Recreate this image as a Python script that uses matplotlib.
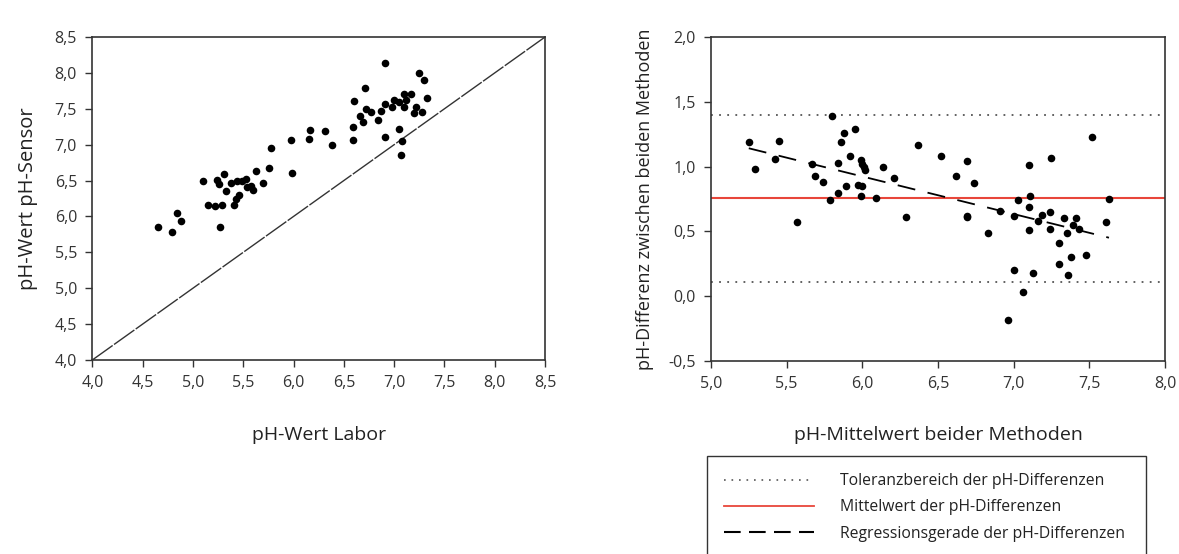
import numpy as np
import matplotlib
matplotlib.use("Agg")
import matplotlib.pyplot as plt
from matplotlib.lines import Line2D
from matplotlib.ticker import FuncFormatter, MultipleLocator

plt.rcParams['font.family'] = ['Open Sans', 'DejaVu Sans']

# pH-Werte: Labor vs. Sensor
labor = [6.91, 6.71, 6.60, 6.66, 6.72, 6.77, 6.69, 6.84, 6.87, 6.91,
         6.59, 6.59, 6.91, 6.16, 6.31, 6.15, 6.38, 5.97, 5.78, 5.98,
         5.76, 5.63, 5.70, 5.10, 5.24, 5.26, 5.31, 5.38, 5.44, 5.49,
         5.53, 5.54, 5.58, 5.60, 5.33, 5.46, 5.43, 5.15, 5.22, 5.29,
         5.41, 4.65, 4.79, 4.84, 4.88, 5.27,
         6.98, 7.00, 7.05, 7.05, 7.07, 7.08, 7.10, 7.10, 7.12, 7.17,
         7.20, 7.22, 7.25, 7.28, 7.30, 7.33]
sensor = [8.14, 7.79, 7.61, 7.40, 7.49, 7.46, 7.31, 7.35, 7.47, 7.57,
          7.25, 7.07, 7.10, 7.21, 7.19, 7.08, 7.00, 7.06, 6.96, 6.60,
          6.67, 6.63, 6.47, 6.50, 6.51, 6.45, 6.59, 6.47, 6.50, 6.50,
          6.52, 6.41, 6.43, 6.37, 6.36, 6.30, 6.24, 6.16, 6.15, 6.16,
          6.16, 5.85, 5.78, 6.05, 5.94, 5.85,
          7.52, 7.62, 7.60, 7.22, 6.86, 7.05, 7.52, 7.70, 7.62, 7.70,
          7.44, 7.52, 8.00, 7.45, 7.90, 7.65]

# Bland-Altman: Mittelwert und Differenz beider Methoden
mittel = [5.25, 5.29, 5.45, 5.42, 5.57, 5.67, 5.69, 5.74, 5.79, 5.80,
          5.84, 5.84, 5.86, 5.88, 5.89, 5.92, 5.95, 5.97, 5.99, 6.00,
          6.01, 6.02, 6.00, 5.99, 6.09, 6.14, 6.21, 6.29, 6.37, 6.52,
          6.62, 6.69, 6.69, 6.69, 6.74, 6.83, 6.91, 7.00, 7.00, 7.06,
          6.96, 7.03, 7.10, 7.11, 7.10, 7.10, 7.16, 7.13, 7.19, 7.24,
          7.24, 7.25, 7.30, 7.30, 7.33, 7.35, 7.36, 7.38, 7.39, 7.41,
          7.43, 7.48, 7.52, 7.61, 7.63]
differenz = [1.19, 0.98, 1.20, 1.06, 0.57, 1.02, 0.93, 0.88, 0.74, 1.39,
             1.03, 0.80, 1.19, 1.26, 0.85, 1.08, 1.29, 0.86, 1.05, 1.02,
             1.00, 0.97, 0.85, 0.77, 0.76, 1.00, 0.91, 0.61, 1.17, 1.08,
             0.93, 1.04, 0.62, 0.61, 0.87, 0.49, 0.66, 0.62, 0.20, 0.03,
             -0.18, 0.74, 1.01, 0.77, 0.69, 0.51, 0.58, 0.18, 0.63, 0.65,
             0.52, 1.07, 0.41, 0.25, 0.60, 0.49, 0.16, 0.30, 0.55, 0.60,
             0.52, 0.32, 1.23, 0.57, 0.75]

mittelwert_diff = 0.755
toleranz = [0.11, 1.40]
reg_x = [5.25, 7.63]
reg_steigung = -0.29
reg_achse = 2.664


def komma(v, pos):
    return f"{v:.1f}".replace('.', ',')


fig = plt.figure(figsize=(11.79, 5.54), dpi=100)
ax1 = fig.add_axes([0.0783, 0.3502, 0.3840, 0.5830])
ax2 = fig.add_axes([0.6030, 0.3484, 0.3851, 0.5848])

# linkes Diagramm
ax1.plot([4.0, 8.5], [4.0, 8.5], color='#333333', lw=1.0, dashes=(18, 1.2))
ax1.scatter(labor, sensor, s=30, color='black', zorder=3, linewidths=0)
ax1.set_xlim(4.0, 8.5)
ax1.set_ylim(4.0, 8.5)
ax1.xaxis.set_major_locator(MultipleLocator(0.5))
ax1.yaxis.set_major_locator(MultipleLocator(0.5))
ax1.set_xlabel('pH-Wert Labor', fontsize=14, color='#222222', labelpad=25)
ax1.set_ylabel('pH-Wert pH-Sensor', fontsize=14.5, color='#222222', labelpad=12)

# rechtes Diagramm
for t in toleranz:
    ax2.axhline(t, color='#555555', lw=1.3, linestyle=(0, (1, 3.5)))
ax2.axhline(mittelwert_diff, color='#e8463a', lw=1.5)
rx = np.array(reg_x)
ax2.plot(rx, reg_achse + reg_steigung * rx, color='black', lw=1.3, dashes=(10, 7))
ax2.scatter(mittel, differenz, s=30, color='black', zorder=3, linewidths=0)
ax2.set_xlim(5.0, 8.0)
ax2.set_ylim(-0.5, 2.0)
ax2.xaxis.set_major_locator(MultipleLocator(0.5))
ax2.yaxis.set_major_locator(MultipleLocator(0.5))
ax2.set_xlabel('pH-Mittelwert beider Methoden', fontsize=14, color='#222222', labelpad=24)
ax2.set_ylabel('pH-Differenz zwischen beiden Methoden', fontsize=13, color='#222222', labelpad=10)

for ax in (ax1, ax2):
    ax.xaxis.set_major_formatter(FuncFormatter(komma))
    ax.yaxis.set_major_formatter(FuncFormatter(komma))
    ax.tick_params(direction='out', length=5, width=1, labelsize=11.5,
                   colors='#333333', pad=6)
    for sp in ax.spines.values():
        sp.set_linewidth(1.2)
        sp.set_color('#333333')

handles = [
    Line2D([], [], color='#555555', lw=1.2, linestyle=(0, (1, 3.5))),
    Line2D([], [], color='#e8463a', lw=1.3),
    Line2D([], [], color='black', lw=1.5, dashes=(8, 4)),
]
labels = ['Toleranzbereich der pH-Differenzen',
          'Mittelwert der pH-Differenzen',
          'Regressionsgerade der pH-Differenzen']
leg = fig.legend(handles, labels, loc='upper left',
                 bbox_to_anchor=(0.5997, 0.0, 0.3725, 0.1769),
                 bbox_transform=fig.transFigure, mode='expand',
                 borderaxespad=0, fontsize=11.3, frameon=True, fancybox=False,
                 handlelength=5.7, handletextpad=1.7, labelspacing=0.65,
                 borderpad=1.1)
leg.get_frame().set_edgecolor('black')
leg.get_frame().set_linewidth(1.0)
for txt in leg.get_texts():
    txt.set_color('#222222')

fig.savefig('out.png', dpi=100)
